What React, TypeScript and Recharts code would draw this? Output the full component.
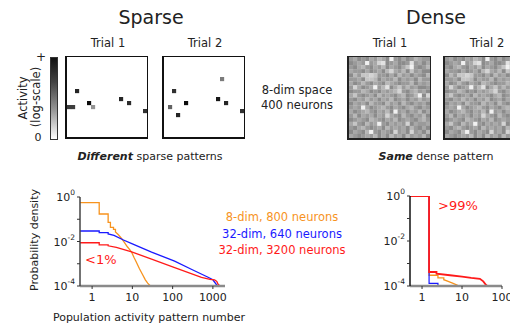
import React from 'react';
import { ScatterChart, Scatter, LineChart, Line, XAxis, YAxis } from 'recharts';

const FONT = '"DejaVu Sans", Verdana, sans-serif';
const ORANGE = '#f7931e';
const BLUE = '#1a1aff';
const RED = '#ff1a1a';

// sparse patterns: [col, row, activity 0..1]
const sparseTrial1 = [
  [2, 8, 0.85], [0, 12, 0.75], [1, 12, 0.75], [5, 11, 0.95], [6, 12, 0.4],
  [13, 10, 0.85], [15, 11, 0.82], [19, 13, 0.8],
];
const sparseTrial2 = [
  [14, 5, 0.5], [2, 8, 0.8], [1, 12, 0.6], [5, 11, 0.95], [3, 14, 0.85],
  [13, 10, 0.9], [15, 11, 0.85], [19, 13, 0.8],
];

// dense pattern, 20x20, brightness levels 0..9 (same on both trials)
const denseRows = [
  '34232435429324235433',
  '23439347823422383424',
  '32453243524324693235',
  '43324234257435263422',
  '25366763324253424325',
  '33426652433524342533',
  '42353243254323352434',
  '37423493582463534223',
  '23354232434573245342',
  '46323425343245235927',
  '32435342435234243534',
  '24342533253425324342',
  '34394234532432453243',
  '42345324352934243524',
  '35243424374325324352',
  '23432543243523432453',
  '46325349324343724334',
  '32453234253434253242',
  '24325932432734273425',
  '43234352425342534352',
];

// probability density, sparse coding
const sparseOrange = [
  { x: 0.5, y: 0.555 }, { x: 1.5, y: 0.555 }, { x: 1.5, y: 0.172 }, { x: 2.5, y: 0.172 },
  { x: 2.5, y: 0.073 }, { x: 2.85, y: 0.073 }, { x: 2.85, y: 0.0435 }, { x: 3.4, y: 0.0435 },
  { x: 3.4, y: 0.035 }, { x: 3.8, y: 0.035 }, { x: 3.8, y: 0.027 }, { x: 4.5, y: 0.02 },
  { x: 5.5, y: 0.013 }, { x: 6.5, y: 0.0085 }, { x: 7.5, y: 0.0058 }, { x: 8.5, y: 0.0044 },
  { x: 9.6, y: 0.0033 }, { x: 11, y: 0.0019 }, { x: 12.5, y: 0.0012 }, { x: 15, y: 0.0006 },
  { x: 18, y: 0.00032 }, { x: 21, y: 0.00019 }, { x: 24, y: 0.000135 }, { x: 28, y: 0.0001 },
];
const sparseBlue = [
  { x: 0.5, y: 0.0297 }, { x: 1.5, y: 0.0297 }, { x: 1.5, y: 0.025 }, { x: 2.5, y: 0.025 },
  { x: 2.5, y: 0.022 }, { x: 3.5, y: 0.019 }, { x: 6, y: 0.0117 }, { x: 10, y: 0.0078 },
  { x: 30, y: 0.0033 }, { x: 112, y: 0.0013 }, { x: 300, y: 0.00055 }, { x: 760, y: 0.000247 },
  { x: 1000, y: 0.00019 }, { x: 1240, y: 0.000111 }, { x: 1450, y: 0.0001 },
];
const sparseRed = [
  { x: 0.5, y: 0.0088 }, { x: 1.5, y: 0.0088 }, { x: 1.5, y: 0.007 }, { x: 2.5, y: 0.007 },
  { x: 2.5, y: 0.0064 }, { x: 4, y: 0.0054 }, { x: 9.6, y: 0.0034 }, { x: 30, y: 0.0016 },
  { x: 100, y: 0.00073 }, { x: 520, y: 0.000247 }, { x: 850, y: 0.0002 }, { x: 1100, y: 0.00019 },
  { x: 1250, y: 0.00016 }, { x: 1350, y: 0.00012 }, { x: 1500, y: 0.0001 }, { x: 1700, y: 0.0001 },
];

// probability density, dense coding
const denseOrange = [
  { x: 0.5, y: 1 }, { x: 1.5, y: 1 }, { x: 1.5, y: 0.0003 }, { x: 2.5, y: 0.0003 },
  { x: 2.5, y: 0.00023 }, { x: 3.5, y: 0.00023 }, { x: 3.5, y: 0.00019 }, { x: 4.5, y: 0.00016 },
  { x: 6, y: 0.00013 }, { x: 7.5, y: 0.00011 }, { x: 8.5, y: 0.0001 },
];
const denseBlue = [
  { x: 0.5, y: 1 }, { x: 1.5, y: 1 }, { x: 1.5, y: 0.00013 }, { x: 2.5, y: 0.00013 },
  { x: 2.5, y: 0.0001 }, { x: 3, y: 0.0001 },
];
const denseRed = [
  { x: 0.5, y: 1 }, { x: 1.5, y: 1 }, { x: 1.5, y: 0.00042 }, { x: 2.3, y: 0.00042 },
  { x: 2.3, y: 0.00035 }, { x: 5, y: 0.0003 }, { x: 10, y: 0.00026 }, { x: 17, y: 0.00023 },
  { x: 28, y: 0.00021 }, { x: 34, y: 0.00016 }, { x: 40, y: 0.00011 }, { x: 43, y: 0.0001 },
  { x: 52, y: 0.0001 },
];

const yTicks = [1, 0.1, 0.01, 0.001, 0.0001];
const sparseXTicks = [1, 10, 100, 1000];
const denseXTicks = [1, 10, 100];

const sparseCells = (list: number[][]) =>
  list.map(([c, r, a]) => ({ x: c + 0.5, y: r + 0.5, gray: Math.round(245 * (1 - a)) }));

const denseCells = denseRows.flatMap((row, r) =>
  row.split('').map((d, c) => ({ x: c + 0.5, y: r + 0.5, gray: Math.round(110 + Number(d) * 14.5) })),
);

const Heatmap = ({ cells, size }: { cells: any[]; size: number }) => {
  const cw = size / 20;
  return (
    <ScatterChart width={size} height={size} margin={{ top: 0, right: 0, bottom: 0, left: 0 }}>
      <XAxis type="number" dataKey="x" domain={[0, 20]} hide />
      <YAxis type="number" dataKey="y" domain={[0, 20]} reversed hide />
      <Scatter
        data={cells}
        isAnimationActive={false}
        shape={(p: any) => (
          <rect
            x={p.cx - cw / 2}
            y={p.cy - cw / 2}
            width={cw + 0.15}
            height={cw + 0.15}
            fill={`rgb(${p.payload.gray},${p.payload.gray},${p.payload.gray})`}
          />
        )}
      />
    </ScatterChart>
  );
};

const Box = ({ left, top, color, children }: any) => (
  <div
    style={{
      position: 'absolute', left, top,
      borderStyle: 'solid', borderColor: color,
      borderWidth: '1px 1px 2px 2px', background: '#fff', lineHeight: 0,
    }}
  >
    {children}
  </div>
);

const YTick = ({ x, y, payload }: any) => {
  const e = Math.round(Math.log10(payload.value));
  if (e % 2 !== 0) return <g />;
  return (
    <text x={x} y={y} textAnchor="end" fontSize={11} fill="#222" fontFamily={FONT}>
      <tspan dy={4}>10</tspan>
      <tspan dy={-6} fontSize={7.5}>{String(e)}</tspan>
    </text>
  );
};

const XTick = ({ x, y, payload }: any) => (
  <text x={x} y={y} dy={10} textAnchor="middle" fontSize={11} fill="#222" fontFamily={FONT}>
    {payload.value}
  </text>
);

const DensityPlot = ({ width, margin, domain, ticks, yAxisColor, series }: any) => (
  <LineChart width={width} height={130} margin={margin}>
    <XAxis
      type="number" dataKey="x" scale="log" domain={domain} ticks={ticks} interval={0}
      allowDataOverflow height={31} tickSize={3} tickMargin={2}
      axisLine={{ stroke: '#8a8a8a', strokeWidth: 2.5 }} tickLine={{ stroke: '#333' }}
      tick={<XTick />}
    />
    <YAxis
      type="number" dataKey="y" scale="log" domain={[0.0001, 1]} ticks={yTicks} interval={0}
      allowDataOverflow width={40} tickSize={3} tickMargin={2}
      axisLine={{ stroke: yAxisColor, strokeWidth: 1.5 }} tickLine={{ stroke: '#333' }}
      tick={<YTick />}
    />
    {series.map((s: any, i: number) => (
      <Line
        key={i} data={s.data} dataKey="y" type="linear" stroke={s.color} strokeWidth={s.width ?? 1.3}
        dot={false} isAnimationActive={false}
      />
    ))}
  </LineChart>
);

export default function App() {
  const t = { fontFamily: FONT, fill: '#222' } as const;
  return (
    <div style={{ position: 'fixed', left: 0, top: 0, width: 510, height: 325, overflow: 'hidden', background: '#fff' }}>
      {/* colour bar */}
      <div
        style={{
          position: 'absolute', left: 50, top: 57, width: 6, height: 81,
          border: '1px solid #333',
          background: 'linear-gradient(#111 0%, #444 30%, #999 65%, #fff 100%)',
        }}
      />
      <Box left={65} top={56} color="#111"><Heatmap cells={sparseCells(sparseTrial1)} size={80} /></Box>
      <Box left={162} top={56} color="#111"><Heatmap cells={sparseCells(sparseTrial2)} size={80} /></Box>
      <Box left={347} top={56} color="#222"><Heatmap cells={denseCells} size={81} /></Box>
      <Box left={443} top={56} color="#222"><Heatmap cells={denseCells} size={81} /></Box>

      <div style={{ position: 'absolute', left: 0, top: 187 }}>
        <DensityPlot
          width={240}
          margin={{ top: 10, right: 15, bottom: 0, left: 40 }}
          domain={[0.5, 2000]}
          ticks={sparseXTicks}
          yAxisColor="#444"
          series={[
            { data: sparseOrange, color: ORANGE },
            { data: sparseBlue, color: BLUE },
            { data: sparseRed, color: RED },
          ]}
        />
      </div>
      <div style={{ position: 'absolute', left: 330, top: 187 }}>
        <DensityPlot
          width={180}
          margin={{ top: 9, right: 8, bottom: 0, left: 40 }}
          domain={[0.5, 100]}
          ticks={denseXTicks}
          yAxisColor="#111"
          series={[
            { data: denseOrange, color: ORANGE },
            { data: denseBlue, color: BLUE, width: 1.2 },
            { data: denseRed, color: RED, width: 1.8 },
          ]}
        />
      </div>

      <svg width={510} height={325} style={{ position: 'absolute', left: 0, top: 0, pointerEvents: 'none' }}>
        <g dominantBaseline="central">
          <text x={151} y={17} fontSize={19} textAnchor="middle" {...t}>Sparse</text>
          <text x={436} y={17} fontSize={19} textAnchor="middle" {...t}>Dense</text>
          <text x={108} y={43} fontSize={11.5} textAnchor="middle" {...t}>Trial 1</text>
          <text x={205} y={43} fontSize={11.5} textAnchor="middle" {...t}>Trial 2</text>
          <text x={390} y={43} fontSize={11.5} textAnchor="middle" {...t}>Trial 1</text>
          <text x={487} y={43} fontSize={11.5} textAnchor="middle" {...t}>Trial 2</text>
          <text x={297} y={90} fontSize={11.5} textAnchor="middle" {...t}>8-dim space</text>
          <text x={297} y={105} fontSize={11.5} textAnchor="middle" {...t}>400 neurons</text>
          <text x={41} y={57} fontSize={12} textAnchor="middle" {...t}>+</text>
          <text x={38} y={137} fontSize={11} textAnchor="middle" {...t}>0</text>
          <text transform="translate(23,98) rotate(-90)" fontSize={11.5} textAnchor="middle" {...t}>Activity</text>
          <text transform="translate(36,97) rotate(-90)" fontSize={11.5} textAnchor="middle" {...t}>(log-scale)</text>
          <text x={150} y={156} fontSize={11} textAnchor="middle" {...t}>
            <tspan fontWeight="bold" fontStyle="italic">Different</tspan> sparse patterns
          </text>
          <text x={436} y={156} fontSize={11} textAnchor="middle" {...t}>
            <tspan fontWeight="bold" fontStyle="italic">Same</tspan> dense pattern
          </text>
          <text transform="translate(34,240) rotate(-90)" fontSize={11} textAnchor="middle" {...t}>Probability density</text>
          <text x={149} y={317} fontSize={11} textAnchor="middle" {...t}>Population activity pattern number</text>
          <text x={282} y={217} fontSize={11.5} textAnchor="middle" fontFamily={FONT} fill={ORANGE}>8-dim, 800 neurons</text>
          <text x={282} y={234} fontSize={11.5} textAnchor="middle" fontFamily={FONT} fill={BLUE}>32-dim, 640 neurons</text>
          <text x={282} y={250} fontSize={11.5} textAnchor="middle" fontFamily={FONT} fill={RED}>32-dim, 3200 neurons</text>
          <text x={85} y={259} fontSize={13} fontFamily={FONT} fill={RED}>&lt;1%</text>
          <text x={438} y={205} fontSize={13} fontFamily={FONT} fill={RED}>&gt;99%</text>
        </g>
      </svg>
    </div>
  );
}
